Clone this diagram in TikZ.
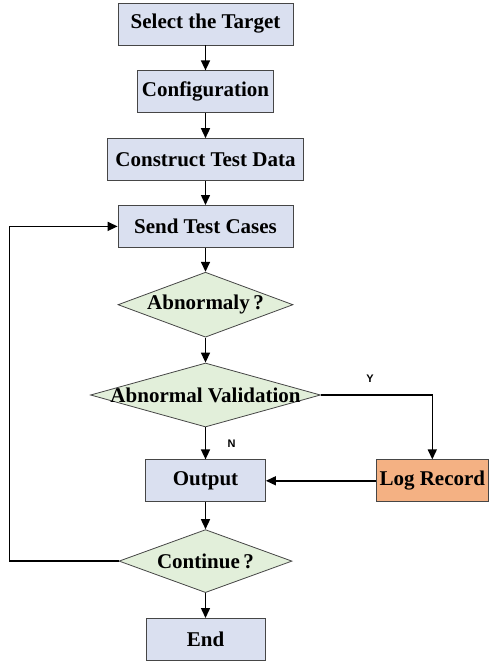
\documentclass[tikz,border=0pt]{standalone}
\usepackage{fontspec}
\setmainfont{Liberation Serif}
\newfontfamily\labelfont{Liberation Sans}
\usepackage{tikz}
\usetikzlibrary{shapes.geometric, arrows.meta, positioning}
\definecolor{stepblue}{RGB}{218, 224, 240}
\definecolor{checkgreen}{RGB}{226, 239, 218}
\definecolor{logorange}{RGB}{244, 177, 131}
\definecolor{edgegray}{RGB}{70, 70, 70}
% text inside a diamond does not widen it
\newcommand{\dtext}[1]{\makebox[0pt]{#1}}

\begin{document}
\begin{tikzpicture}[
    box/.style={rectangle, draw=edgegray, line width=0.8pt, fill=stepblue,
                minimum height=42pt, inner sep=0pt, align=center,
                font=\fontsize{21}{25}\selectfont\bfseries},
    decision/.style={diamond, draw=edgegray, line width=0.8pt, fill=checkgreen,
                inner sep=0pt, align=center,
                font=\fontsize{21}{25}\selectfont\bfseries},
    arrow/.style={-{Triangle[length=10pt, width=9pt]}, line width=1.5pt},
    yn/.style={font=\labelfont\fontsize{11}{13}\selectfont\bfseries},
]

\useasboundingbox (0,0) rectangle (490pt,-663pt);

% Main column
\node[box, minimum width=175pt] (select) at (205.5pt,-24pt) {Select the Target};
\node[box, minimum width=136pt, below=25pt of select] (config) {Configuration};
\node[box, minimum width=196pt, below=25pt of config] (construct)
    {Construct Test Data};
\node[box, minimum width=175pt, below=24pt of construct] (send) {Send Test Cases};

% Checks
\node[decision, minimum width=175pt, minimum height=65pt, below=24pt of send]
    (abnormal) {\dtext{Abnormaly\,?}};
\node[decision, minimum width=230pt, minimum height=64pt, below=25pt of abnormal]
    (valid) {\dtext{Abnormal Validation}};

% Output and log
\node[box, minimum width=120pt, below=32pt of valid] (output) {Output};
\node[box, fill=logorange, minimum width=112pt, right=110pt of output] (log)
    {Log Record};

% Loop and end
\node[decision, minimum width=173pt, minimum height=63pt, below=27pt of output]
    (cont) {\dtext{Continue\,?}};
\node[box, minimum width=119pt, below=25pt of cont] (finish) {End};
\coordinate[left=109pt of cont.west] (loopturn);

% Arrows
\draw[arrow] (select) -- (config);
\draw[arrow] (config) -- (construct);
\draw[arrow] (construct) -- (send);
\draw[arrow] (send) -- (abnormal);
\draw[arrow] (abnormal) -- (valid);
\draw[arrow] (valid) -- node[right=18pt, yn]{N} (output);
\draw[arrow] (valid.east) -| node[pos=0.22, above=8pt, yn]{Y} (log.north);
\draw[arrow] (log) -- (output);
\draw[arrow] (output) -- (cont);
\draw[arrow] (cont) -- (finish);
\draw[arrow] (cont.west) -- (loopturn) |- (send.west);

\end{tikzpicture}
\end{document}
